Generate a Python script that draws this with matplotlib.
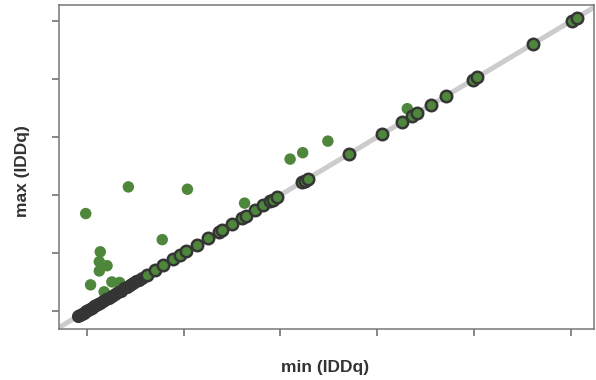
import matplotlib
matplotlib.use("Agg")
import matplotlib.pyplot as plt
import numpy as np

# points sitting on the diagonal (min == max), dense low-end cluster first
dense_min = [-0.09, -0.07, -0.05, -0.03, -0.01, 0.01, 0.03, 0.05, 0.08, 0.10,
             0.12, 0.14, 0.17, 0.20, 0.23, 0.26, 0.29, 0.32, 0.35, 0.39,
             0.42, 0.45, 0.48, 0.51, 0.54, 0.57]
diag_min = [0.62, 0.70, 0.79, 0.89, 0.96, 1.03, 1.14, 1.25, 1.37, 1.40,
            1.50, 1.60, 1.64, 1.74, 1.82, 1.89, 1.92, 1.96,
            2.22, 2.25, 2.28, 2.71, 3.05, 3.26, 3.36, 3.41, 3.56, 3.71,
            3.99, 4.03, 4.61, 5.01, 5.06]

# points off the diagonal
off_min = [-0.01, 0.43, 1.04, 0.78, 1.63, 0.14, 0.13, 0.21, 0.13, 0.04,
           0.26, 0.34, 0.18, 2.10, 2.23, 2.49, 3.31]
off_max = [1.68, 2.14, 2.10, 1.23, 1.86, 1.02, 0.85, 0.78, 0.69, 0.45,
           0.50, 0.49, 0.33, 2.62, 2.73, 2.93, 3.49]

green = '#4e873b'
dark = '#353535'

fig = plt.figure(figsize=(5.96, 3.8), dpi=100)
ax = fig.add_axes([0.099, 0.133, 0.898, 0.854])

line = np.array([-0.3, 5.6])
ax.plot(line, line, color='#cccccc', lw=3.6, zorder=1, solid_capstyle='butt')

ax.scatter(off_min, off_max, s=68, color=green, edgecolors='none', zorder=2)
ax.scatter(dense_min, dense_min, s=68, color=dark, edgecolors=dark,
           linewidths=1.2, zorder=3)
ax.scatter(diag_min, diag_min, s=68, color=green, edgecolors=dark,
           linewidths=1.8, zorder=3)

ax.set_xlim(-0.286, 5.24)
ax.set_ylim(-0.32, 5.28)
ax.set_xticks(range(6))
ax.set_yticks(range(6))
ax.set_xticklabels([])
ax.set_yticklabels([])
ax.tick_params(length=5, width=1.1, color='#666666')
for sp in ax.spines.values():
    sp.set_color('#777777')
    sp.set_linewidth(1.1)

fig.text(0.546, 0.032, 'min (IDDq)', ha='center', va='center',
         fontsize=12.5, fontweight='bold', color='#333333',
         family='Liberation Sans')
fig.text(0.037, 0.55, 'max (IDDq)', ha='center', va='center', rotation=90,
         fontsize=12.5, fontweight='bold', color='#333333',
         family='Liberation Sans')

fig.savefig('out.png', dpi=100)
